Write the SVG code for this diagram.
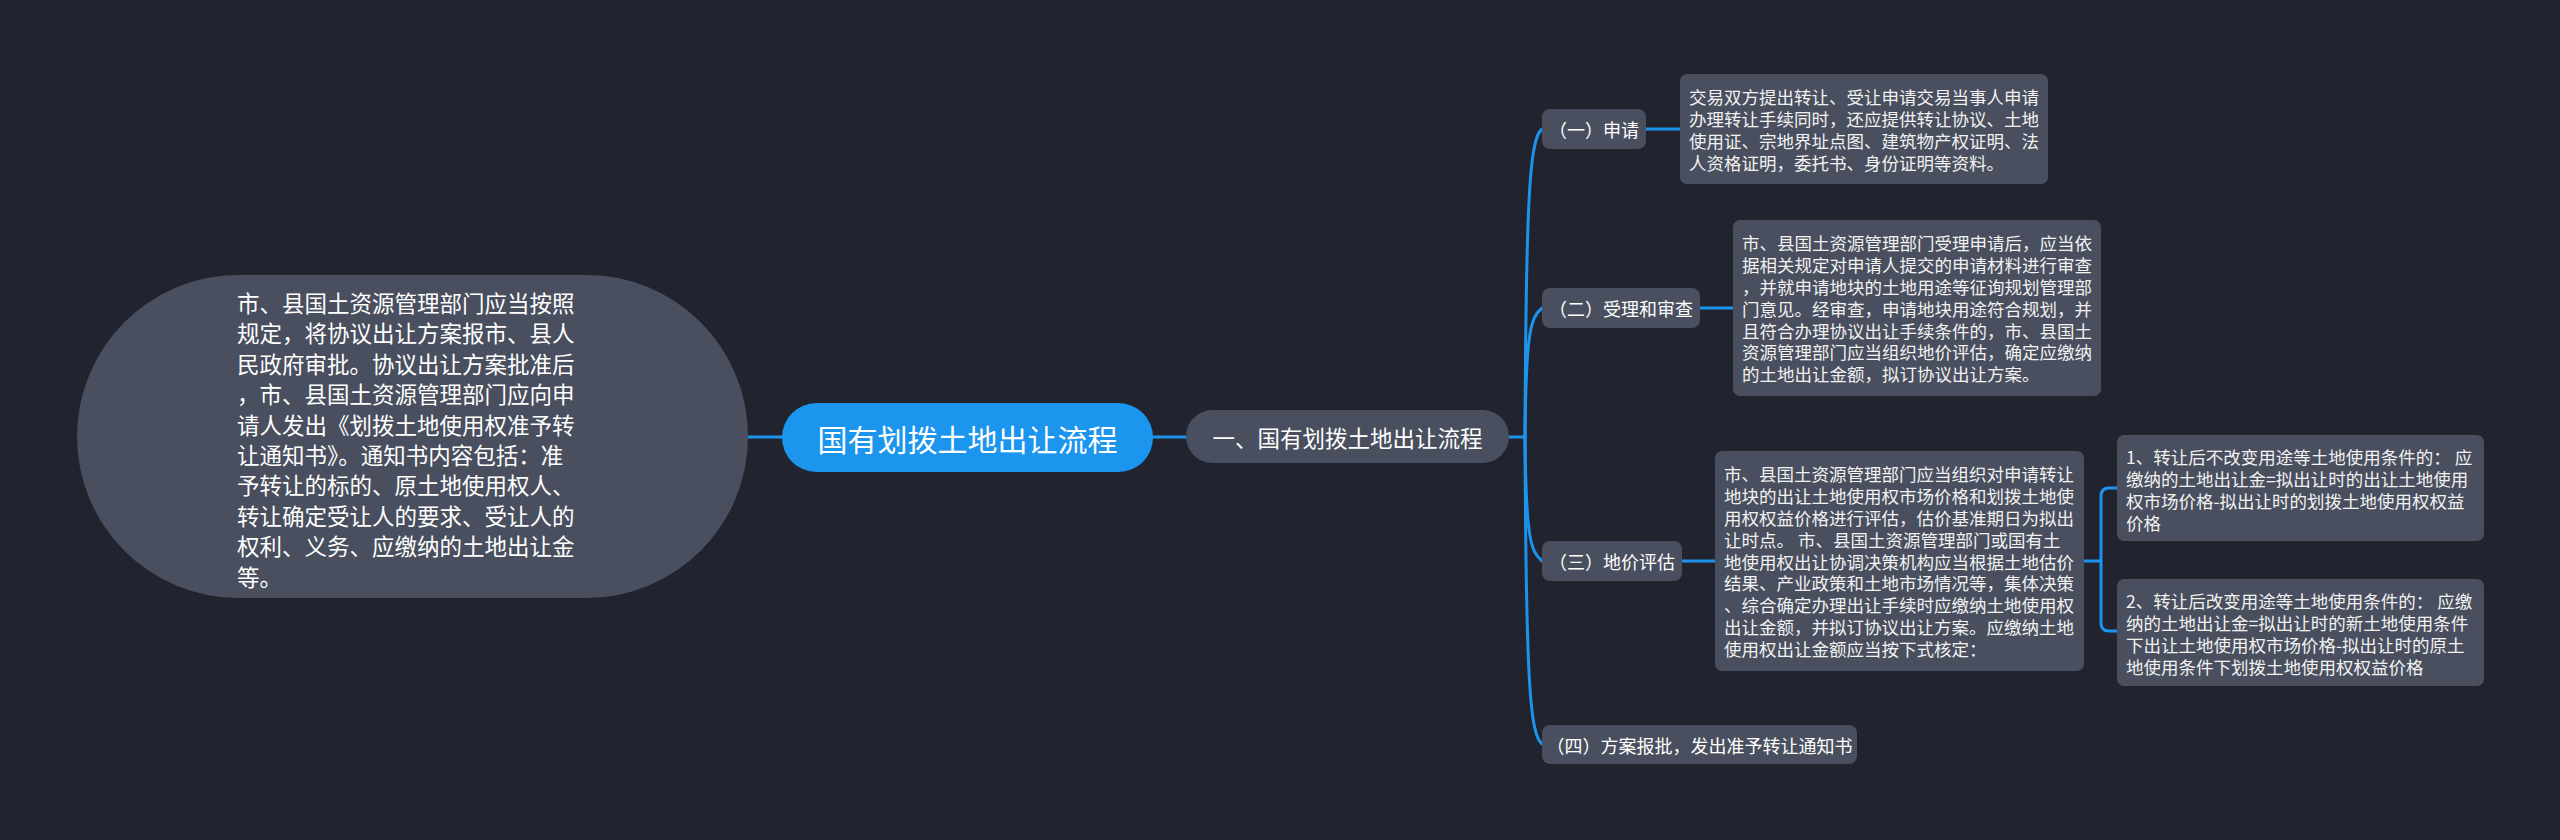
<svg xmlns="http://www.w3.org/2000/svg" width="2560" height="840" viewBox="0 0 2560 840">
<style>
.bg{fill:#21242f}
.gray{fill:#494f5e}
.blue{fill:#1c95ee}
.t{font-family:"Noto Sans CJK SC","Noto Sans",sans-serif;fill:#ffffff;dominant-baseline:central}
.c{text-anchor:middle}
.d{font-size:17.5px;fill:#f2f2f2}
.l{fill:none;stroke:#1c93ec;stroke-width:3;stroke-linecap:round}
</style>
<rect class="bg" x="0" y="0" width="2560" height="840"/>
<g id="connectors">
<path class="l" d="M748,437 H782"/>
<path class="l" d="M1153,437 H1186"/>
<path class="l" d="M1509,437 H1525"/>
<path class="l" d="M1525,437 C1526,191 1530,139 1542,129"/>
<path class="l" d="M1525,437 C1526,334 1530,318 1542,308"/>
<path class="l" d="M1525,437 C1526,536 1530,551 1542,561"/>
<path class="l" d="M1525,437 C1526,683 1530,734 1542,744"/>
<path class="l" d="M1646,129 H1680"/>
<path class="l" d="M1700,308 H1733"/>
<path class="l" d="M1682,561 H1715"/>
<path class="l" d="M2084,561 H2101"/>
<path class="l" d="M2117,488 H2109 Q2101,488 2101,496 V623 Q2101,631 2109,631 H2117"/>
</g>
<g id="left-note">
<rect class="gray" x="77" y="275" width="671" height="323" rx="161.5"/>
<text class="t" font-size="22.5">
<tspan x="237" y="302">市、县国土资源管理部门应当按照</tspan>
<tspan x="237" y="332.4">规定，将协议出让方案报市、县人</tspan>
<tspan x="237" y="362.8">民政府审批。协议出让方案批准后</tspan>
<tspan x="237" y="393.2">，市、县国土资源管理部门应向申</tspan>
<tspan x="237" y="423.6">请人发出《划拨土地使用权准予转</tspan>
<tspan x="237" y="454">让通知书》。通知书内容包括：准</tspan>
<tspan x="237" y="484.4">予转让的标的、原土地使用权人、</tspan>
<tspan x="237" y="514.8">转让确定受让人的要求、受让人的</tspan>
<tspan x="237" y="545.2">权利、义务、应缴纳的土地出让金</tspan>
<tspan x="237" y="575.6">等。</tspan>
</text>
</g>
<g id="root">
<rect class="blue" x="782" y="403" width="371" height="69" rx="34.5"/>
<text class="t c" x="967.5" y="437.5" font-size="30">国有划拨土地出让流程</text>
</g>
<g id="level1">
<rect class="gray" x="1186" y="410" width="323" height="53" rx="26.5"/>
<text class="t c" x="1347.5" y="436.5" font-size="22.5">一、国有划拨土地出让流程</text>
</g>
<g id="n1">
<rect class="gray" x="1542" y="109" width="104" height="40" rx="8"/>
<text class="t c" x="1594" y="129" font-size="18">（一）申请</text>
</g>
<g id="n1d">
<rect class="gray" x="1680" y="74" width="368" height="110" rx="7"/>
<text class="t d">
<tspan x="1689" y="96.4">交易双方提出转让、受让申请交易当事人申请</tspan>
<tspan x="1689" y="118.2">办理转让手续同时，还应提供转让协议、土地</tspan>
<tspan x="1689" y="140">使用证、宗地界址点图、建筑物产权证明、法</tspan>
<tspan x="1689" y="161.8">人资格证明，委托书、身份证明等资料。</tspan>
</text>
</g>
<g id="n2">
<rect class="gray" x="1542" y="288" width="158" height="40" rx="8"/>
<text class="t c" x="1621" y="308" font-size="18">（二）受理和审查</text>
</g>
<g id="n2d">
<rect class="gray" x="1733" y="220" width="368" height="176" rx="7"/>
<text class="t d">
<tspan x="1742" y="242.4">市、县国土资源管理部门受理申请后，应当依</tspan>
<tspan x="1742" y="264.2">据相关规定对申请人提交的申请材料进行审查</tspan>
<tspan x="1742" y="286">，并就申请地块的土地用途等征询规划管理部</tspan>
<tspan x="1742" y="307.8">门意见。经审查，申请地块用途符合规划，并</tspan>
<tspan x="1742" y="329.6">且符合办理协议出让手续条件的，市、县国土</tspan>
<tspan x="1742" y="351.4">资源管理部门应当组织地价评估，确定应缴纳</tspan>
<tspan x="1742" y="373.2">的土地出让金额，拟订协议出让方案。</tspan>
</text>
</g>
<g id="n3">
<rect class="gray" x="1542" y="541" width="140" height="40" rx="8"/>
<text class="t c" x="1612" y="561" font-size="18">（三）地价评估</text>
</g>
<g id="n3d">
<rect class="gray" x="1715" y="451" width="369" height="220" rx="7"/>
<text class="t d">
<tspan x="1724" y="473.4">市、县国土资源管理部门应当组织对申请转让</tspan>
<tspan x="1724" y="495.2">地块的出让土地使用权市场价格和划拨土地使</tspan>
<tspan x="1724" y="517">用权权益价格进行评估，估价基准期日为拟出</tspan>
<tspan x="1724" y="538.8">让时点。 市、县国土资源管理部门或国有土</tspan>
<tspan x="1724" y="560.6">地使用权出让协调决策机构应当根据土地估价</tspan>
<tspan x="1724" y="582.4">结果、产业政策和土地市场情况等，集体决策</tspan>
<tspan x="1724" y="604.2">、综合确定办理出让手续时应缴纳土地使用权</tspan>
<tspan x="1724" y="626">出让金额，并拟订协议出让方案。应缴纳土地</tspan>
<tspan x="1724" y="647.8">使用权出让金额应当按下式核定：</tspan>
</text>
</g>
<g id="n3s1">
<rect class="gray" x="2117" y="435" width="367" height="106" rx="7"/>
<text class="t d">
<tspan x="2126" y="456.4">1、转让后不改变用途等土地使用条件的： 应</tspan>
<tspan x="2126" y="478.2">缴纳的土地出让金=拟出让时的出让土地使用</tspan>
<tspan x="2126" y="500">权市场价格-拟出让时的划拨土地使用权权益</tspan>
<tspan x="2126" y="521.8">价格</tspan>
</text>
</g>
<g id="n3s2">
<rect class="gray" x="2117" y="579" width="367" height="107" rx="7"/>
<text class="t d">
<tspan x="2126" y="600.4">2、转让后改变用途等土地使用条件的： 应缴</tspan>
<tspan x="2126" y="622.2">纳的土地出让金=拟出让时的新土地使用条件</tspan>
<tspan x="2126" y="644">下出让土地使用权市场价格-拟出让时的原土</tspan>
<tspan x="2126" y="665.8">地使用条件下划拨土地使用权权益价格</tspan>
</text>
</g>
<g id="n4">
<rect class="gray" x="1542" y="725" width="315" height="39" rx="8"/>
<text class="t c" x="1699.5" y="744.5" font-size="18">（四）方案报批，发出准予转让通知书</text>
</g>
</svg>
